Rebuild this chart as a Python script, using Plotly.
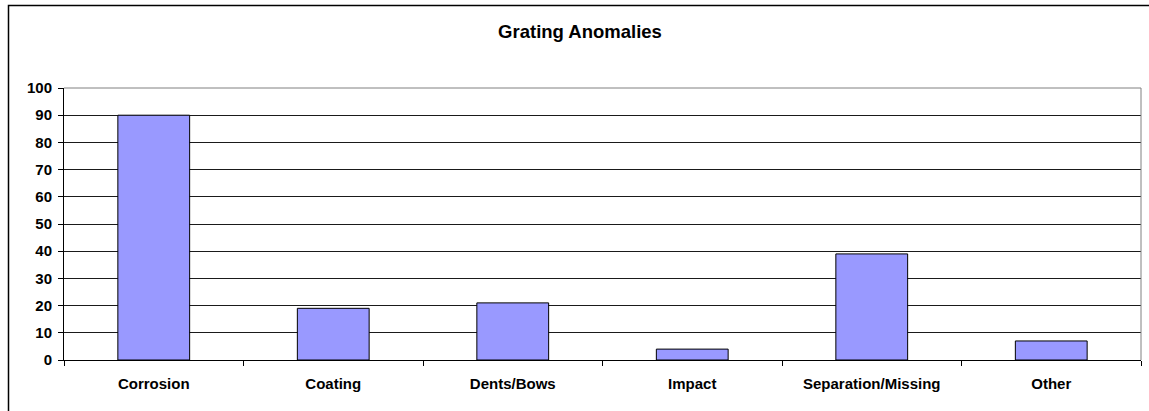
import plotly.graph_objects as go

categories = ["Corrosion", "Coating", "Dents/Bows", "Impact", "Separation/Missing", "Other"]
counts = [90, 19, 21, 4, 39, 7]
y_ticks = [0, 10, 20, 30, 40, 50, 60, 70, 80, 90, 100]

W, H = 1149, 411
ML, MR, MT, MB = 64, 8, 88, 51
PW, PH = W - ML - MR, H - MT - MB

def px_x(p):
    return (p - ML) / PW

def px_y(p):
    return (H - MB - p) / PH

FONT = "Liberation Sans, Arial, sans-serif"

fig = go.Figure(
    go.Bar(
        x=categories,
        y=counts,
        width=0.4,
        marker=dict(color="#9999FF", line=dict(color="#000000", width=1)),
        hoverinfo="x+y",
    )
)

fig.update_layout(
    width=W,
    height=H,
    margin=dict(l=ML, r=MR, t=MT, b=MB),
    paper_bgcolor="white",
    plot_bgcolor="white",
    showlegend=False,
    title=dict(
        text="<b>Grating Anomalies</b>",
        font=dict(family=FONT, size=18.5, color="#000"),
        x=px_x(580),
        xref="paper",
        xanchor="center",
        y=1 - 32 / H,
        yanchor="middle",
    ),
    xaxis=dict(
        type="category",
        tickson="boundaries",
        ticks="outside",
        ticklen=5,
        tickcolor="#000",
        tickwidth=1,
        showline=True,
        linecolor="#000",
        linewidth=1,
        showgrid=False,
        tickfont=dict(family=FONT, size=15, color="#000", weight="bold"),
        ticklabelstandoff=10,
    ),
    yaxis=dict(
        range=[0, 100],
        tickvals=y_ticks,
        ticks="outside",
        ticklen=5,
        tickcolor="#000",
        showline=True,
        linecolor="#000",
        linewidth=1,
        showgrid=True,
        gridcolor="#1a1a1a",
        gridwidth=1,
        zeroline=False,
        tickfont=dict(family=FONT, size=15, color="#000", weight="bold"),
        ticklabelstandoff=3,
    ),
    shapes=[
        # plot area frame (top and right edges)
        dict(type="line", xref="paper", yref="paper", x0=0, x1=1, y0=1, y1=1,
             line=dict(color="#808080", width=1)),
        dict(type="line", xref="paper", yref="paper", x0=1, x1=1, y0=0, y1=1,
             line=dict(color="#808080", width=1)),
        # chart area border (runs off the right and bottom edges of the page)
        dict(type="rect", xref="paper", yref="paper",
             x0=px_x(8.5), x1=px_x(1160), y0=px_y(420), y1=px_y(5.5),
             line=dict(color="#000", width=1.5), layer="below"),
    ],
)

fig.write_html("out.html")
